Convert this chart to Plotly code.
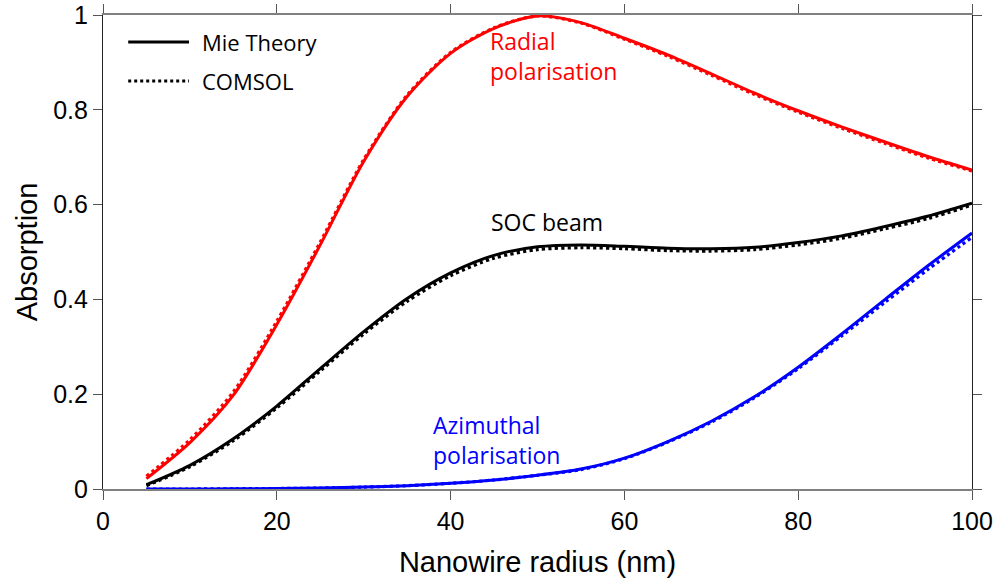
import plotly.graph_objects as go

# Nanowire radius (nm)
radius = [5, 10, 15, 20, 25, 30, 35, 40, 45, 50, 55, 60, 65, 70, 75, 80, 85, 90, 95, 100]

# Mie theory
radial_mie = [0.022, 0.098, 0.198, 0.347, 0.515, 0.691, 0.828, 0.919, 0.972, 0.998,
              0.984, 0.951, 0.916, 0.876, 0.835, 0.798, 0.764, 0.732, 0.701, 0.673]
soc_mie = [0.009, 0.050, 0.106, 0.175, 0.254, 0.332, 0.402, 0.456, 0.493, 0.511,
           0.515, 0.512, 0.508, 0.507, 0.510, 0.520, 0.534, 0.554, 0.576, 0.603]
azim_mie = [0.0, 0.0, 0.0005, 0.001, 0.002, 0.004, 0.007, 0.012, 0.019, 0.029,
            0.042, 0.065, 0.100, 0.143, 0.195, 0.257, 0.327, 0.400, 0.472, 0.540]

# COMSOL
radial_comsol = [0.027, 0.104, 0.205, 0.354, 0.521, 0.695, 0.831, 0.921, 0.973, 0.998,
                 0.983, 0.949, 0.913, 0.873, 0.832, 0.795, 0.761, 0.729, 0.698, 0.671]
soc_comsol = [0.007, 0.047, 0.102, 0.171, 0.249, 0.327, 0.396, 0.450, 0.487, 0.505,
              0.509, 0.507, 0.503, 0.502, 0.505, 0.515, 0.529, 0.549, 0.571, 0.599]
azim_comsol = [0.0, 0.0, 0.0005, 0.001, 0.002, 0.004, 0.007, 0.012, 0.019, 0.029,
               0.041, 0.064, 0.099, 0.141, 0.193, 0.254, 0.323, 0.394, 0.464, 0.531]

legend_labels = ["Mie Theory", "COMSOL"]

RED = "#ff0000"
BLUE = "#0000ff"
BLACK = "#000000"

fig = go.Figure()

series = [
    (radial_comsol, radial_mie, RED),
    (soc_comsol, soc_mie, BLACK),
    (azim_comsol, azim_mie, BLUE),
]
for comsol, mie, col in series:
    fig.add_trace(go.Scatter(x=radius, y=comsol, mode="lines",
                             line=dict(color=col, width=3.2, dash="dot", shape="spline", smoothing=0.8),
                             showlegend=False, hoverinfo="skip"))
    fig.add_trace(go.Scatter(x=radius, y=mie, mode="lines",
                             line=dict(color=col, width=3, shape="spline", smoothing=0.8),
                             showlegend=False, hoverinfo="skip"))

ann_font = "Open Sans, Noto Sans, sans-serif"

# manual legend (paper coordinates)
leg_rows = [0.943, 0.861]
leg_dash = ["solid", "dot"]
for lab, yy, dsh in zip(legend_labels, leg_rows, leg_dash):
    fig.add_shape(type="line", xref="paper", yref="paper", x0=0.029, x1=0.099, y0=yy, y1=yy,
                  line=dict(color=BLACK, width=3, dash=dsh))
    fig.add_annotation(x=0.112, y=yy, xref="paper", yref="paper", text=lab, showarrow=False,
                       xanchor="left", yanchor="middle",
                       font=dict(family=ann_font, size=22, color=BLACK))

fig.add_annotation(x=44.3, y=0.913, xref="x", yref="y", text="Radial<br>polarisation",
                   showarrow=False, xanchor="left", yanchor="middle", align="left",
                   font=dict(family=ann_font, size=23, color=RED))
fig.add_annotation(x=51.1, y=0.564, xref="x", yref="y", text="SOC beam",
                   showarrow=False, xanchor="center", yanchor="middle",
                   font=dict(family=ann_font, size=23, color=BLACK))
fig.add_annotation(x=37.7, y=0.104, xref="x", yref="y", text="Azimuthal<br>polarisation",
                   showarrow=False, xanchor="left", yanchor="middle", align="left",
                   font=dict(family=ann_font, size=23, color=BLUE))

axis_font = "Liberation Sans, Arial, sans-serif"
fig.update_layout(
    width=997, height=581,
    margin=dict(l=103, r=25, t=15, b=92, autoexpand=False),
    paper_bgcolor="white", plot_bgcolor="white",
    font=dict(family=axis_font, color="black"),
    showlegend=False,
    xaxis=dict(range=[0, 100], tickvals=[0, 20, 40, 60, 80, 100],
               ticktext=["0", "20", "40", "60", "80", "100"], automargin=False,
               showgrid=False, zeroline=False, showline=True, linecolor="#808080", linewidth=1.5,
               mirror="ticks", ticks="outside", ticklen=9, tickcolor="#555555",
               tickfont=dict(size=25, family=axis_font),
               title=dict(text="Nanowire radius (nm)", font=dict(size=29, family=axis_font), standoff=18)),
    yaxis=dict(range=[0, 1], tickvals=[0, 0.2, 0.4, 0.6, 0.8, 1],
               ticktext=["0", "0.2", "0.4", "0.6", "0.8", "1"], automargin=False,
               showgrid=False, zeroline=False, showline=True, linecolor="#222222", linewidth=1.2,
               mirror="ticks", ticks="outside", ticklen=9, tickcolor="#555555",
               tickfont=dict(size=25, family=axis_font),
               title=dict(text="Absorption", font=dict(size=29, family=axis_font), standoff=6)),
)

fig.write_html("out.html", config={"displayModeBar": False},
               post_script="document.body.style.margin='0';document.body.style.overflow='hidden';")
